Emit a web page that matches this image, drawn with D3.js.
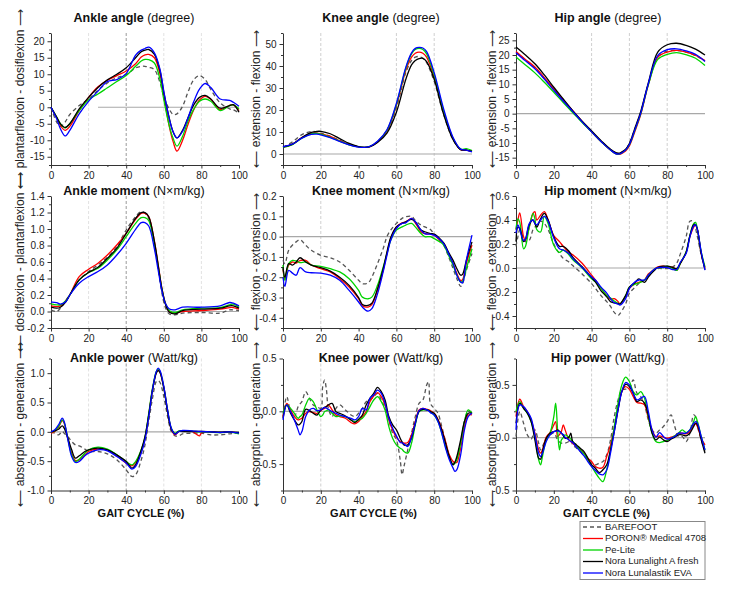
<!DOCTYPE html>
<html><head><meta charset="utf-8">
<script src="https://cdn.jsdelivr.net/npm/d3@7"></script>
<style>
body{margin:0;background:#fff;}
svg{display:block;font-family:"Liberation Sans",Arial,sans-serif;}
</style>
</head><body>
<svg id="c" width="729" height="592"></svg>
<script>
// ---------- shared ----------
const gaitTicks = [0,20,40,60,80,100];
const gaitMinorTicks = [10,30,50,70,90];
const seriesNames = ["BAREFOOT","PORON® Medical 4708","Pe-Lite","Nora Lunalight A fresh","Nora Lunalastik EVA"];
const seriesColors = ["#555555","#ff0000","#00d400","#000000","#0000ff"];

// ---------- Ankle angle ----------
const ankleAngleX = [0,3,5,7.5,10,15,20,25,30,35,40,45,48,50,52,55,58,60,63,65,67,70,73,76,79,82,85,90,95,97,100];
const ankleAngleBarefoot = [0,-4.5,-5.8,-4.5,-2.2,0.5,2.5,5.2,7.4,8.9,9.9,11.9,12.4,12.4,12.1,11.4,7.4,3.3,-0.7,-2.2,-2,0.3,4.8,8.4,9.6,8.4,5.4,1.3,-0.5,-0.8,-1.7];
const ankleAnglePoron = [0,-3.2,-5.5,-7,-5.8,-1,3,6.2,8.2,9.6,11,13.2,15.2,15.9,16,15,10,3.5,-6,-10.5,-13.3,-10,-5,-0.7,2.2,3.3,2.4,-0.7,0.6,0.7,-1];
const ankleAnglePeLite = [0,-3,-5,-6.3,-5,-1,2.3,4,5.9,7.8,9.6,12.4,14,14.5,14.4,13.4,8.4,2.3,-5.8,-9.5,-11.8,-8.8,-4,-0.5,1.8,2.5,1.8,-1,0.5,0.7,-0.5];
const ankleAngleLunalight = [0,-3,-5,-6.1,-5,-0.5,3,6,8.3,10,12,15,16.8,17.3,17.5,16,11,4.5,-3.5,-7.5,-9.3,-7,-3,0.8,3,3.6,2.5,-0.3,0.5,0.8,-1.5];
const ankleAngleLunalastik = [0,-3.5,-6.5,-8.7,-7,-2,1.8,4.9,7.8,8.4,10.2,15.8,17.3,17.8,18.2,16.5,11.4,4.8,-3.7,-7.5,-9.3,-7.3,-3,1.8,5.5,7.2,6,2.5,2.1,1.5,0.3];

// ---------- Knee angle ----------
const kneeAngleX = [0,5,10,15,18,20,25,30,35,40,43,46,50,55,60,65,68,70,72,74,76,80,85,90,94,97,100];
const kneeAngleBarefoot = [3,5.5,8.8,10.2,10,9.5,8,6.2,4.5,3.3,3,3.4,5.5,10.5,21,37,42.5,44,44.3,43.5,41.5,33,18,6.5,2,1.8,1.5];
const kneeAnglePoron = [3,4.5,7.5,9.4,9.5,9.2,8,6,4.3,3.2,3,3.4,5.5,10.5,22,38,44,45.8,46.3,45.8,44,35,19,7,2,1.8,1.2];
const kneeAnglePeLite = [3,4.3,7.2,9.2,9.4,9,7.6,5.8,4.2,3.2,3,3.5,5.6,10.8,22.5,39,45.5,47.5,48,47.5,45.5,36,19.5,7,2.2,2.4,1.5];
const kneeAngleLunalight = [3.2,4.5,7.5,9.8,10.3,10.3,9.2,7,4.8,3.4,3,3.3,5.2,9.5,19,34,40.5,42.5,43.4,43.5,42,34,18,6.5,2,1.8,1.2];
const kneeAngleLunalastik = [3.3,4.5,7.2,8.9,9,8.7,7.4,5.7,4.1,3.1,3,3.5,5.8,11,23,39.5,46,48,48.5,48.2,46.5,37,20.5,7.5,2.2,1.8,1];

// ---------- Hip angle ----------
const hipAngleX = [0,5,10,15,20,25,30,35,40,45,50,54,58,60,63,66,70,75,80,85,90,95,100];
const hipAngleBarefoot = [21,18.3,15.6,12,8.2,4.5,0.7,-2.8,-6.2,-9.4,-12.2,-13.4,-12.2,-10,-5,0.4,10,19.3,21.3,21.5,21,19.8,18];
const hipAnglePoron = [21.2,18.5,15.9,12.3,8.4,4.6,1,-2.7,-6.2,-9.5,-12.4,-13.9,-12.7,-11,-5.9,-0.3,9.8,19.2,21,21.6,21,19.9,18.1];
const hipAnglePeLite = [19.3,16.6,13.9,10.7,7.3,3.8,0.4,-3,-6.2,-9.5,-12.4,-13.8,-12.4,-10.6,-5.5,0,9.8,18.5,20.2,20.8,20.1,18.9,16.4];
const hipAngleLunalight = [22.7,20,17,13.2,9,5,1,-2.6,-5.9,-9.2,-12.1,-13.5,-12.1,-10.2,-4.8,0.8,10.5,21,23.5,24,23.3,22,20];
const hipAngleLunalastik = [20.8,18,15.3,11.8,8,4.3,0.8,-2.8,-6.2,-9.5,-12.4,-13.8,-12.4,-10.5,-5.3,0.2,10.2,19.8,21.8,22.1,21.4,20.2,17.8];

// ---------- Ankle moment ----------
const ankleMomentX = [0,3,5,8,10,15,20,25,30,35,40,45,48,50,52,55,57,59,61,63,66,70,80,90,95,97,100];
const ankleMomentBarefoot = [0.02,0,0.04,0.141,0.2,0.383,0.484,0.565,0.657,0.786,0.988,1.149,1.21,1.19,1.129,0.8,0.52,0.22,0.04,-0.03,-0.04,-0.02,-0.012,-0.02,0.02,0.02,0.012];
const ankleMomentPoron = [0.069,0.06,0.069,0.133,0.2,0.423,0.512,0.585,0.685,0.806,0.948,1.117,1.19,1.19,1.149,0.85,0.57,0.28,0.09,0,-0.02,0,0.012,0.028,0.048,0.048,0.028];
const ankleMomentPeLite = [0.093,0.081,0.081,0.133,0.2,0.383,0.472,0.524,0.625,0.746,0.907,1.069,1.137,1.137,1.101,0.82,0.55,0.27,0.09,0.01,-0.012,0.02,0.04,0.048,0.081,0.089,0.052];
const ankleMomentLunalight = [0.052,0.04,0.052,0.121,0.2,0.383,0.472,0.536,0.645,0.766,0.948,1.129,1.198,1.198,1.149,0.85,0.56,0.27,0.08,-0.01,-0.028,0.012,0.028,0.04,0.069,0.069,0.04];
const ankleMomentLunalastik = [0.113,0.109,0.089,0.121,0.2,0.343,0.423,0.484,0.565,0.685,0.827,0.996,1.077,1.077,1.036,0.76,0.5,0.25,0.09,0.03,0.02,0.052,0.052,0.069,0.109,0.101,0.069];

// ---------- Knee moment ----------
const kneeMomentX = [0,1,3,5,7,9,12,15,20,25,30,35,40,42,45,47,50,53,55,57,60,63,65,68,70,73,75,78,80,83,85,88,90,92,94,95,97,100];
const kneeMomentBarefoot = [-0.117,-0.133,-0.067,-0.042,-0.026,-0.015,-0.042,-0.067,-0.092,-0.104,-0.125,-0.166,-0.215,-0.232,-0.228,-0.2,-0.133,-0.059,0,0.032,0.065,0.09,0.098,0.1,0.08,0.057,0.048,0.035,0.012,-0.018,-0.042,-0.108,-0.158,-0.207,-0.245,-0.232,-0.166,-0.083];
const kneeMomentPoron = [-0.16,-0.21,-0.14,-0.125,-0.13,-0.118,-0.117,-0.14,-0.158,-0.174,-0.207,-0.248,-0.306,-0.34,-0.347,-0.335,-0.265,-0.166,-0.084,-0.01,0.048,0.068,0.073,0.09,0.068,0.024,0.015,0.013,0.007,-0.018,-0.034,-0.092,-0.133,-0.182,-0.216,-0.212,-0.133,-0.042];
const kneeMomentPeLite = [-0.14,-0.216,-0.133,-0.117,-0.12,-0.128,-0.125,-0.14,-0.146,-0.158,-0.174,-0.207,-0.265,-0.298,-0.306,-0.298,-0.24,-0.15,-0.084,-0.018,0.032,0.048,0.057,0.065,0.048,0.015,0,0,-0.01,-0.026,-0.042,-0.1,-0.141,-0.19,-0.224,-0.22,-0.158,-0.06];
const kneeMomentLunalight = [-0.15,-0.2,-0.133,-0.14,-0.125,-0.104,-0.125,-0.14,-0.153,-0.17,-0.2,-0.24,-0.3,-0.334,-0.339,-0.328,-0.257,-0.158,-0.076,-0.004,0.048,0.065,0.073,0.085,0.073,0.032,0.024,0.015,0.012,-0.01,-0.031,-0.084,-0.117,-0.158,-0.19,-0.186,-0.117,-0.026];
const kneeMomentLunalastik = [-0.2,-0.245,-0.166,-0.18,-0.19,-0.153,-0.174,-0.178,-0.18,-0.19,-0.215,-0.265,-0.322,-0.347,-0.367,-0.355,-0.282,-0.174,-0.092,-0.018,0.04,0.065,0.068,0.09,0.073,0.032,0.015,0.012,0.007,-0.014,-0.034,-0.092,-0.133,-0.19,-0.224,-0.228,-0.117,0.007];

// ---------- Hip moment ----------
const hipMomentX = [0,1,2,4,5,7,9,10,11,13,15,17,20,23,25,28,30,35,40,42,45,48,50,52,54,55,58,60,63,65,68,70,73,75,78,80,83,85,87,90,92,94,95,96,98,100];
const hipMomentBarefoot = [0.18,0.26,0.32,0.25,0.22,0.23,0.32,0.34,0.36,0.39,0.37,0.32,0.20,0.12,0.08,0.05,0.02,-0.05,-0.13,-0.17,-0.23,-0.28,-0.32,-0.37,-0.395,-0.38,-0.30,-0.21,-0.16,-0.13,-0.10,-0.06,-0.02,-0.005,-0.005,-0.005,0.01,0.04,0.12,0.26,0.39,0.39,0.33,0.26,0.11,-0.005];
const hipMomentPoron = [0.32,0.40,0.46,0.26,0.23,0.34,0.455,0.47,0.40,0.44,0.47,0.40,0.27,0.22,0.18,0.13,0.11,0.04,-0.06,-0.10,-0.17,-0.23,-0.26,-0.255,-0.28,-0.30,-0.24,-0.17,-0.13,-0.12,-0.10,-0.05,-0.013,0.01,0.015,0.01,0.005,-0.02,0.04,0.13,0.26,0.34,0.36,0.32,0.12,0];
const hipMomentPeLite = [0.32,0.41,0.38,0.16,0.18,0.34,0.455,0.41,0.32,0.30,0.43,0.37,0.19,0.13,0.15,0.11,0.07,0.0,-0.09,-0.115,-0.17,-0.23,-0.25,-0.275,-0.295,-0.30,-0.23,-0.16,-0.135,-0.125,-0.10,-0.06,-0.013,0.004,0.004,0.015,-0.005,-0.02,0.04,0.135,0.27,0.37,0.38,0.32,0.135,0.01];
const hipMomentLunalight = [0.22,0.34,0.33,0.22,0.24,0.36,0.40,0.37,0.34,0.41,0.455,0.40,0.26,0.18,0.18,0.14,0.09,0.01,-0.08,-0.116,-0.19,-0.24,-0.28,-0.29,-0.298,-0.30,-0.23,-0.16,-0.12,-0.09,-0.12,-0.075,-0.024,0.004,0.015,0.015,0.004,-0.005,0.04,0.13,0.27,0.36,0.36,0.32,0.12,-0.013];
const hipMomentLunalastik = [0.29,0.36,0.32,0.23,0.24,0.37,0.40,0.37,0.36,0.40,0.43,0.39,0.25,0.16,0.15,0.12,0.08,0.004,-0.075,-0.10,-0.16,-0.21,-0.255,-0.29,-0.30,-0.31,-0.255,-0.17,-0.115,-0.10,-0.10,-0.06,-0.013,0.004,0.004,0.004,-0.013,-0.013,0.05,0.12,0.26,0.35,0.36,0.32,0.135,-0.018];

// ---------- Ankle power ----------
const anklePowerX = [0,2,4,6,7,9,11,13,15,18,20,25,30,35,40,43,45,48,50,52,54,56,57,58,60,62,64,66,68,70,75,79,80,85,90,95,100];
const anklePowerBarefoot = [0,-0.023,-0.051,0.006,-0.023,-0.08,-0.165,-0.222,-0.239,-0.295,-0.335,-0.335,-0.375,-0.477,-0.648,-0.761,-0.733,-0.477,-0.222,0.176,0.573,0.858,0.875,0.841,0.602,0.261,0.006,-0.068,-0.068,-0.034,-0.023,-0.023,-0.023,-0.051,-0.051,-0.034,-0.023];
const anklePowerPoron = [-0.023,0.006,0.08,0.193,0.148,-0.125,-0.364,-0.489,-0.477,-0.392,-0.335,-0.295,-0.307,-0.409,-0.534,-0.58,-0.523,-0.335,-0.108,0.29,0.727,1.011,1.057,1.011,0.761,0.364,0.045,-0.051,0.006,0.011,0.006,-0.068,-0.02,0,-0.011,0,-0.023];
const anklePowerPeLite = [0,0.017,0.091,0.205,0.159,-0.125,-0.392,-0.506,-0.466,-0.364,-0.307,-0.261,-0.295,-0.392,-0.506,-0.563,-0.506,-0.307,-0.091,0.318,0.744,1.028,1.068,1.028,0.761,0.375,0.062,-0.023,0.017,0.017,0.011,0,0,-0.006,-0.011,-0.006,-0.034];
const anklePowerLunalight = [0,0.017,0.045,0.102,0.062,-0.108,-0.307,-0.449,-0.409,-0.335,-0.307,-0.278,-0.307,-0.392,-0.506,-0.619,-0.563,-0.307,-0.08,0.29,0.716,1.0,1.045,1.011,0.744,0.347,0.045,-0.034,0.006,0.006,0.006,0.006,0.006,0,-0.006,0,-0.011];
const anklePowerLunalastik = [0,0.034,0.119,0.233,0.176,-0.136,-0.42,-0.523,-0.506,-0.409,-0.364,-0.307,-0.324,-0.42,-0.534,-0.636,-0.591,-0.364,-0.136,0.261,0.716,1.028,1.085,1.045,0.773,0.375,0.062,-0.04,0.006,0.023,0.017,0.006,0.006,0,-0.011,0,-0.023];

// ---------- Knee power ----------
const kneePowerX = [0,2,4,6,8,9,10,12,14,16,18,20,21,22,23,24,26,28,30,33,36,38,40,42,44,46,48,50,52,54,56,58,60,62,63,64,66,68,70,72,74,76,77,78,80,82,84,86,88,90,91,92,94,96,98,100];
const kneePowerBarefoot = [-0.05,0.138,-0.003,-0.05,0.044,0.07,0.091,0.186,0.123,0.06,0.044,0.028,0.233,0.296,0.201,0.028,-0.05,0.028,0.06,0.013,-0.035,-0.05,-0.019,0.028,0.091,0.107,0.138,0.17,0.107,0.028,-0.082,-0.208,-0.27,-0.459,-0.6,-0.522,-0.365,-0.208,-0.05,0.075,0.107,0.248,0.28,0.075,0.028,-0.019,-0.145,-0.286,-0.428,-0.49,-0.49,-0.443,-0.302,-0.097,0,-0.019];
const kneePowerPoron = [-0.05,0.075,0.013,-0.05,-0.082,-0.075,-0.066,-0.019,-0.003,-0.013,-0.019,0.006,0.02,0.028,0.045,0.06,0.013,-0.035,-0.05,-0.066,-0.107,-0.119,-0.097,-0.05,-0.003,0.091,0.145,0.176,0.138,0.06,-0.082,-0.176,-0.245,-0.286,-0.295,-0.302,-0.296,-0.223,-0.097,0.013,0.028,0.019,0.015,0.006,-0.019,-0.075,-0.17,-0.286,-0.412,-0.475,-0.484,-0.484,-0.349,-0.145,-0.035,-0.035];
const kneePowerPeLite = [-0.019,0.06,0.028,-0.019,-0.066,-0.05,-0.035,0.06,0.123,0.091,0.013,-0.05,-0.035,-0.003,0.005,0.013,-0.019,-0.05,-0.044,-0.05,-0.082,-0.097,-0.082,-0.066,-0.019,0.044,0.107,0.138,0.091,0.013,-0.145,-0.255,-0.318,-0.349,-0.36,-0.38,-0.396,-0.302,-0.129,-0.003,0.013,0.013,0.01,-0.003,-0.035,-0.097,-0.208,-0.333,-0.443,-0.506,-0.49,-0.459,-0.302,-0.097,0.013,-0.019];
const kneePowerLunalight = [-0.066,0.06,-0.019,-0.082,-0.129,-0.12,-0.097,0.019,0.006,-0.019,-0.035,0.013,0.025,0.038,0.045,0.06,0.075,-0.003,-0.019,-0.044,-0.082,-0.107,-0.075,-0.035,0.06,0.123,0.17,0.226,0.186,0.107,-0.05,-0.129,-0.176,-0.255,-0.29,-0.318,-0.318,-0.255,-0.113,0,0.019,0.013,0.008,-0.003,-0.019,-0.082,-0.176,-0.302,-0.428,-0.506,-0.48,-0.428,-0.27,-0.097,-0.019,-0.019];
const kneePowerLunalastik = [-0.082,0.06,-0.003,-0.082,-0.176,-0.223,-0.192,-0.05,0.013,0.028,0.006,0.013,0.025,0.038,0.03,0.019,-0.003,-0.019,-0.035,-0.05,-0.066,-0.082,-0.05,0.028,0.013,0.123,0.154,0.201,0.17,0.075,-0.066,-0.16,-0.233,-0.296,-0.3,-0.308,-0.333,-0.245,-0.113,0.006,0.028,0.013,0.005,-0.013,-0.035,-0.097,-0.208,-0.349,-0.459,-0.538,-0.569,-0.553,-0.412,-0.176,-0.05,-0.019];

// ---------- Hip power ----------
const hipPowerX = [0,2,4,6,8,10,12,13,14,16,18,20,21,22,23,24,25,26,28,29,30,32,34,36,38,40,42,44,46,48,50,52,54,56,58,60,62,64,66,68,70,72,74,76,78,80,82,84,86,88,90,92,94,95,96,98,100];
const hipPowerBarefoot = [0.011,0.248,0.137,0.027,-0.014,0.074,-0.052,-0.115,-0.084,-0.005,0.027,0.043,0.02,-0.021,-0.04,-0.052,-0.052,-0.052,-0.036,-0.021,-0.068,-0.099,-0.131,-0.172,-0.21,-0.241,-0.257,-0.241,-0.226,-0.162,-0.021,0.2,0.358,0.453,0.459,0.468,0.547,0.421,0.39,0.311,0.169,0.074,0.043,0.074,0.106,0.153,0.216,0.106,0.011,0.011,-0.036,0.043,0.216,0.2,0.106,-0.021,-0.131];
const hipPowerPoron = [0.2,0.364,0.295,0.248,0.169,0.043,-0.115,-0.147,-0.115,0.005,0.049,0.121,0.153,0.011,0.03,0.058,0.121,0.074,-0.021,-0.036,-0.052,-0.084,-0.115,-0.147,-0.194,-0.226,-0.273,-0.289,-0.279,-0.178,-0.068,0.09,0.279,0.437,0.484,0.459,0.39,0.333,0.327,0.311,0.185,0.074,0.011,0.017,0.005,-0.005,0.005,0.017,0.043,0.043,0.036,0.058,0.121,0.131,0.106,-0.005,-0.068];
const hipPowerPeLite = [0.248,0.342,0.279,0.232,0.153,0.011,-0.21,-0.257,-0.178,-0.021,0.043,0.2,0.327,0.074,-0.115,-0.021,0.0,0.027,0.005,-0.014,-0.036,-0.077,-0.115,-0.153,-0.21,-0.273,-0.33,-0.383,-0.415,-0.304,-0.115,0.106,0.327,0.5,0.573,0.532,0.437,0.405,0.437,0.374,0.2,0.043,-0.036,-0.046,-0.036,-0.027,-0.005,0.017,0.043,0.074,0.049,0.074,0.153,0.2,0.153,0.011,-0.115];
const hipPowerLunalight = [0.137,0.326,0.279,0.232,0.153,-0.021,-0.194,-0.203,-0.131,-0.005,0.043,0.058,0.065,0.074,0.06,0.043,0.02,-0.005,0.005,0.043,-0.036,-0.068,-0.099,-0.131,-0.194,-0.257,-0.289,-0.33,-0.304,-0.257,-0.115,0.058,0.263,0.437,0.506,0.484,0.421,0.342,0.358,0.327,0.216,0.043,-0.021,0.005,-0.021,-0.036,-0.014,0.005,0.027,0.027,0.017,0.043,0.106,0.137,0.121,-0.021,-0.147];
const hipPowerLunalastik = [0.074,0.311,0.295,0.248,0.185,0.027,-0.147,-0.178,-0.147,-0.036,0.027,0.058,0.062,0.065,0.06,0.043,0.03,0.005,-0.021,-0.036,-0.046,-0.09,-0.131,-0.172,-0.226,-0.273,-0.311,-0.342,-0.352,-0.304,-0.147,0.058,0.263,0.437,0.522,0.5,0.421,0.358,0.374,0.39,0.248,0.074,0.005,0.049,0.011,-0.014,-0.005,0.011,0.043,0.043,0.043,0.074,0.137,0.153,0.137,0.011,-0.115];

// ---------- axis tick lists ----------
const ankleAngleTicks = [-15,-10,-5,0,5,10,15,20];
const kneeAngleTicks = [0,10,20,30,40,50];
const hipAngleTicks = [-15,-10,-5,0,5,10,15,20,25];
const ankleMomentTicks = [-0.2,0,0.2,0.4,0.6,0.8,1.0,1.2,1.4];
const kneeMomentTicks = [-0.4,-0.3,-0.2,-0.1,0,0.1,0.2];
const hipMomentTicks = [-0.4,-0.2,0,0.2,0.4,0.6];
const anklePowerTicks = [-1,-0.5,0,0.5,1];
const kneePowerTicks = [-0.5,0,0.5];
const hipPowerTicks = [-0.5,0,0.5];

// ---------- layout ----------
const colX = [[51,239],[283,472],[516,705]];
const rowY = [[33,165],[196,328],[358.5,490.5]];
const titleX = [134,381,608];
const titleY = [22,195,362];
const ylabX = [21,257,493];
const gridCols = [
  [{v:20,c:"#e2e2e2"},{v:40,c:"#9a9a9a"},{v:60,c:"#e2e2e2"},{v:80,c:"#e2e2e2"}],
  [{v:20,c:"#cfcfcf"},{v:60,c:"#cfcfcf"},{v:80,c:"#cfcfcf"}],
  [{v:40,c:"#cfcfcf"},{v:60,c:"#cfcfcf"},{v:80,c:"#cfcfcf"}]
];

const panels = [
 {r:0,c:0,bold:"Ankle angle",unit:" (degree)",ylab:"plantarflexion - dosiflexion",dom:[-17.5,22.5],ticks:ankleAngleTicks,fmt:"d",zeroFrom:25,
  x:ankleAngleX,s:[ankleAngleBarefoot,ankleAnglePoron,ankleAnglePeLite,ankleAngleLunalight,ankleAngleLunalastik]},
 {r:0,c:1,bold:"Knee angle",unit:" (degree)",ylab:"extension - flexion",dom:[-5,55],ticks:kneeAngleTicks,fmt:"d",
  x:kneeAngleX,s:[kneeAngleBarefoot,kneeAnglePoron,kneeAnglePeLite,kneeAngleLunalight,kneeAngleLunalastik]},
 {r:0,c:2,bold:"Hip angle",unit:" (degree)",ylab:"extension - flexion",dom:[-17.5,27.5],ticks:hipAngleTicks,fmt:"d",
  x:hipAngleX,s:[hipAngleBarefoot,hipAnglePoron,hipAnglePeLite,hipAngleLunalight,hipAngleLunalastik]},
 {r:1,c:0,bold:"Ankle moment",unit:" (N×m/kg)",ylab:"dosiflexion - plantarflexion",dom:[-0.2,1.4],ticks:ankleMomentTicks,fmt:".1f",
  x:ankleMomentX,s:[ankleMomentBarefoot,ankleMomentPoron,ankleMomentPeLite,ankleMomentLunalight,ankleMomentLunalastik]},
 {r:1,c:1,bold:"Knee moment",unit:" (N×m/kg)",ylab:"flexion - extension",dom:[-0.45,0.2],ticks:kneeMomentTicks,fmt:".1f",
  x:kneeMomentX,s:[kneeMomentBarefoot,kneeMomentPoron,kneeMomentPeLite,kneeMomentLunalight,kneeMomentLunalastik]},
 {r:1,c:2,bold:"Hip moment",unit:" (N×m/kg)",ylab:"flexion - extension",dom:[-0.5,0.6],ticks:hipMomentTicks,fmt:".1f",
  x:hipMomentX,s:[hipMomentBarefoot,hipMomentPoron,hipMomentPeLite,hipMomentLunalight,hipMomentLunalastik]},
 {r:2,c:0,bold:"Ankle power",unit:" (Watt/kg)",ylab:"absorption - generation",dom:[-1,1.25],ticks:anklePowerTicks,fmt:".1f",
  x:anklePowerX,s:[anklePowerBarefoot,anklePowerPoron,anklePowerPeLite,anklePowerLunalight,anklePowerLunalastik]},
 {r:2,c:1,bold:"Knee power",unit:" (Watt/kg)",ylab:"absorption - generation",dom:[-0.75,0.5],ticks:kneePowerTicks,fmt:".1f",
  x:kneePowerX,s:[kneePowerBarefoot,kneePowerPoron,kneePowerPeLite,kneePowerLunalight,kneePowerLunalastik]},
 {r:2,c:2,bold:"Hip power",unit:" (Watt/kg)",ylab:"absorption - generation",dom:[-0.5,0.75],ticks:hipPowerTicks,fmt:".1f",
  x:hipPowerX,s:[hipPowerBarefoot,hipPowerPoron,hipPowerPeLite,hipPowerLunalight,hipPowerLunalastik]}
];

const svg = d3.select("#c");

panels.forEach(p => {
  const [x0,x1] = colX[p.c], [y0,y1] = rowY[p.r];
  const x = d3.scaleLinear().domain([0,100]).range([x0,x1]);
  const y = d3.scaleLinear().domain(p.dom).range([y1,y0]);
  const g = svg.append("g");

  gridCols[p.c].forEach(gl => {
    g.append("line").attr("x1",x(gl.v)).attr("x2",x(gl.v)).attr("y1",y0).attr("y2",y1)
      .attr("stroke",gl.c).attr("stroke-width",1).attr("stroke-dasharray","3,2");
  });
  g.append("line").attr("x1",x(p.zeroFrom||0)).attr("x2",x(100)).attr("y1",y(0)).attr("y2",y(0))
    .attr("stroke","#a8a8a8").attr("stroke-width",1.2);

  // minor ticks at midpoints of major ticks
  const step = p.ticks[1]-p.ticks[0];
  const yMinor = [];
  for (let v = p.ticks[0]-step/2; v <= p.dom[1]+1e-9; v += step) if (v >= p.dom[0]-1e-9) yMinor.push(v);
  g.append("g").attr("transform",`translate(0,${y1})`)
    .call(d3.axisBottom(x).tickValues(gaitMinorTicks).tickSize(2).tickFormat(""))
    .call(a => { a.select(".domain").remove(); a.selectAll("line").attr("stroke","#333"); });
  g.append("g").attr("transform",`translate(${x0},0)`)
    .call(d3.axisLeft(y).tickValues(yMinor).tickSize(2).tickFormat(""))
    .call(a => { a.select(".domain").remove(); a.selectAll("line").attr("stroke","#333"); });

  const fmt = v => d3.format(p.fmt)(v).replace("\u2212","-");
  const ax = g.append("g").attr("transform",`translate(0,${y1})`)
    .call(d3.axisBottom(x).tickValues(gaitTicks).tickSize(3.5).tickSizeOuter(0).tickFormat(d3.format("d")));
  const ay = g.append("g").attr("transform",`translate(${x0},0)`)
    .call(d3.axisLeft(y).tickValues(p.ticks).tickSize(3.5).tickSizeOuter(0).tickFormat(fmt));
  [ax,ay].forEach(a => {
    a.select(".domain").attr("stroke","#333");
    a.selectAll(".tick line").attr("stroke","#333");
    a.selectAll("text").attr("font-size",10).attr("fill","#222").attr("font-family","Liberation Sans, Arial, sans-serif");
  });

  const line = d3.line().x(d=>x(d[0])).y(d=>y(d[1])).curve(d3.curveCatmullRom.alpha(0.5));
  p.s.forEach((vals,i) => {
    g.append("path").datum(p.x.map((xv,j)=>[xv,vals[j]])).attr("d",line)
      .attr("fill","none").attr("stroke",seriesColors[i]).attr("stroke-width",1.3)
      .attr("stroke-dasharray", i===0 ? "4,3" : null);
  });

  const t = svg.append("text").attr("x",titleX[p.c]).attr("y",titleY[p.r]).attr("text-anchor","middle")
    .attr("font-size",12.5).attr("fill","#111");
  t.append("tspan").attr("font-weight","bold").text(p.bold);
  t.append("tspan").text(p.unit);

  const yc = (y0+y1)/2;
  svg.append("text").attr("transform",`translate(${ylabX[p.c]},${yc}) rotate(-90)`)
    .attr("text-anchor","middle").attr("dominant-baseline","middle")
    .attr("font-size",12).attr("fill","#222").text("\u27F5 " + p.ylab + " \u27F6");

  if (p.r === 2) {
    svg.append("text").attr("x",(x0+x1)/2 - 4).attr("y",517).attr("text-anchor","middle")
      .attr("font-size",11).attr("font-weight","bold").attr("fill","#111").text("GAIT CYCLE (%)");
  }
});

// legend
const lg = svg.append("g");
lg.append("rect").attr("x",580).attr("y",521.5).attr("width",125).attr("height",58)
  .attr("fill","#fff").attr("stroke","#888");
seriesNames.forEach((n,i) => {
  const yy = 527 + i*11.5;
  lg.append("line").attr("x1",583).attr("x2",603).attr("y1",yy).attr("y2",yy)
    .attr("stroke",seriesColors[i]).attr("stroke-width",1.3).attr("stroke-dasharray", i===0?"4,3":null);
  lg.append("text").attr("x",605).attr("y",yy).attr("dominant-baseline","middle")
    .attr("font-size",9.5).attr("fill","#222").text(n);
});
</script>
</body></html>
